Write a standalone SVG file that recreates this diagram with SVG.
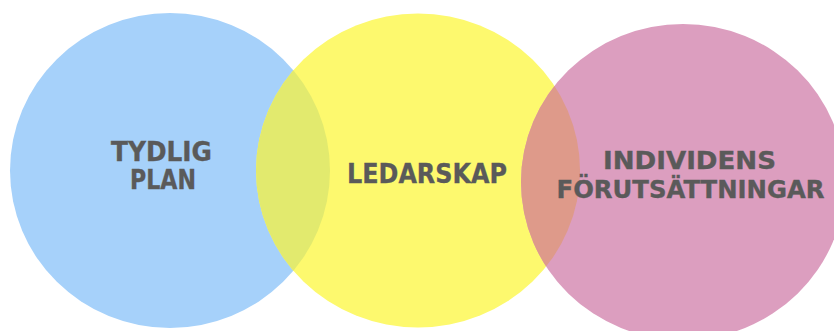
<svg xmlns="http://www.w3.org/2000/svg" width="834" height="331" viewBox="0 0 834 331">
  <style>
    .lbl { font-family: "DejaVu Sans", Verdana, sans-serif; font-weight: bold; fill: #5a5a5a; stroke: #5a5a5a; stroke-width: 0.35; text-anchor: middle; }
  </style>
  <defs>
    <clipPath id="clipBlue"><ellipse cx="170" cy="170.5" rx="160" ry="157.5"/></clipPath>
    <clipPath id="clipYellow"><ellipse cx="418" cy="170.5" rx="162" ry="157"/></clipPath>
  </defs>
  <rect width="834" height="331" fill="#ffffff"/>
  <g id="tydlig-plan">
    <ellipse cx="170" cy="170.5" rx="160" ry="157.5" fill="#a6d1fa"/>
    <text class="lbl" x="161.5" y="161" font-size="26" textLength="101" lengthAdjust="spacingAndGlyphs">TYDLIG</text>
    <text class="lbl" x="163" y="189" font-size="26" textLength="66" lengthAdjust="spacingAndGlyphs">PLAN</text>
  </g>
  <g id="ledarskap">
    <ellipse cx="418" cy="170.5" rx="162" ry="157" fill="#fdf96e"/>
    <ellipse cx="418" cy="170.5" rx="162" ry="157" fill="#e2ea6e" clip-path="url(#clipBlue)"/>
    <text class="lbl" x="427" y="183" font-size="27" textLength="160" lengthAdjust="spacingAndGlyphs">LEDARSKAP</text>
  </g>
  <g id="individens-forutsattningar">
    <ellipse cx="683" cy="182" rx="162" ry="158" fill="#dc9ebf"/>
    <ellipse cx="683" cy="182" rx="162" ry="158" fill="#de9a8a" clip-path="url(#clipYellow)"/>
    <text class="lbl" x="689.5" y="169" font-size="24" textLength="173" lengthAdjust="spacingAndGlyphs">INDIVIDENS</text>
    <text class="lbl" x="690.5" y="198" font-size="24" textLength="268" lengthAdjust="spacingAndGlyphs">FÖRUTSÄTTNINGAR</text>
  </g>
  <g id="connectors"/>
</svg>
